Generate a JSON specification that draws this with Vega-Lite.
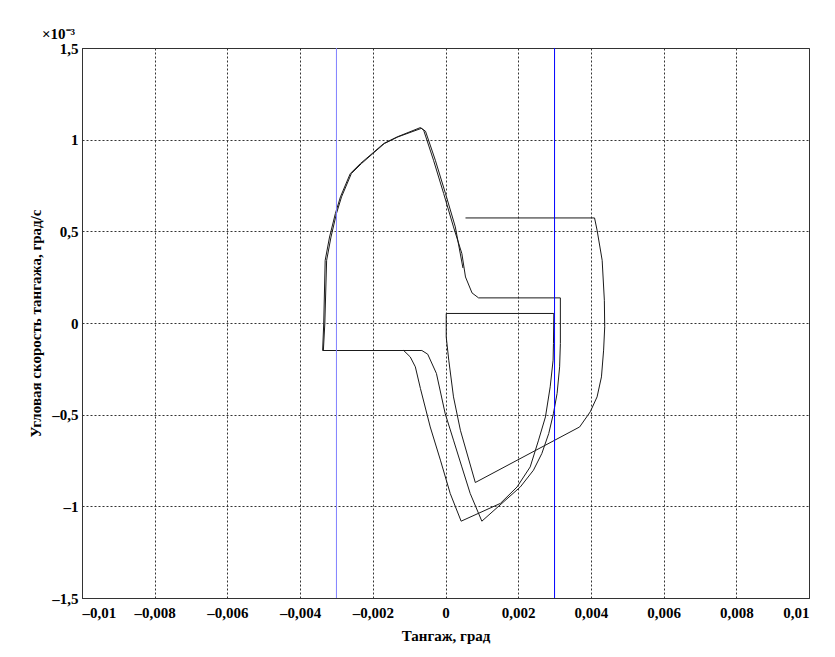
{
  "$schema": "https://vega.github.io/schema/vega-lite/v6.json",
  "width": 727,
  "height": 550,
  "autosize": {"type": "none"},
  "padding": {"left": 82, "top": 48, "right": 26, "bottom": 59},
  "background": "white",
  "title": {"text": "×10⁻³", "anchor": "start", "frame": "group", "dx": -40, "offset": -1, "font": "Liberation Serif", "fontSize": 15, "fontWeight": "bold", "color": "#000"},
  "config": {
    "locale": {"number": {"decimal": ",", "thousands": "\u00a0", "grouping": [3], "currency": ["", ""], "minus": "–"}},
    "view": {"stroke": "#333", "strokeWidth": 1},
    "axis": {
      "labelFont": "Liberation Serif", "labelFontSize": 15, "labelFontWeight": "bold", "labelColor": "#000",
      "titleFont": "Liberation Serif", "titleFontSize": 15, "titleFontWeight": "bold", "titleColor": "#000",
      "domainColor": "#333", "ticks": false,
      "grid": true, "gridColor": "#333", "gridDash": [2, 2], "gridOpacity": 1, "gridWidth": 1
    }
  },
  "datasets": {
    "traj": [
      {"i": 1, "x": 0.00055, "y": 0.573},
      {"i": 2, "x": 0.00410, "y": 0.573},
      {"i": 3, "x": 0.00417, "y": 0.506},
      {"i": 4, "x": 0.00431, "y": 0.342},
      {"i": 5, "x": 0.00437, "y": 0.124},
      {"i": 6, "x": 0.00438, "y": -0.021},
      {"i": 7, "x": 0.00435, "y": -0.148},
      {"i": 8, "x": 0.00429, "y": -0.294},
      {"i": 9, "x": 0.00417, "y": -0.403},
      {"i": 10, "x": 0.00398, "y": -0.485},
      {"i": 11, "x": 0.00369, "y": -0.567},
      {"i": 12, "x": 0.00082, "y": -0.870},
      {"i": 13, "x": 0.00041, "y": -0.585},
      {"i": 14, "x": 0.00022, "y": -0.403},
      {"i": 15, "x": 0.00009, "y": -0.203},
      {"i": 16, "x": 0.00002, "y": -0.076},
      {"i": 17, "x": 0.00002, "y": 0.052},
      {"i": 18, "x": 0.00298, "y": 0.052},
      {"i": 19, "x": 0.00297, "y": -0.112},
      {"i": 20, "x": 0.00296, "y": -0.203},
      {"i": 21, "x": 0.00288, "y": -0.348},
      {"i": 22, "x": 0.00275, "y": -0.512},
      {"i": 23, "x": 0.00256, "y": -0.639},
      {"i": 24, "x": 0.00233, "y": -0.785},
      {"i": 25, "x": 0.00197, "y": -0.894},
      {"i": 26, "x": 0.00151, "y": -0.984},
      {"i": 27, "x": 0.00043, "y": -1.081},
      {"i": 28, "x": 0.00013, "y": -0.930},
      {"i": 29, "x": -0.00014, "y": -0.748},
      {"i": 30, "x": -0.00042, "y": -0.567},
      {"i": 31, "x": -0.00069, "y": -0.357},
      {"i": 32, "x": -0.00083, "y": -0.239},
      {"i": 33, "x": -0.00097, "y": -0.185},
      {"i": 34, "x": -0.00115, "y": -0.150},
      {"i": 35, "x": -0.00338, "y": -0.150},
      {"i": 36, "x": -0.00335, "y": -0.003},
      {"i": 37, "x": -0.00331, "y": 0.342},
      {"i": 38, "x": -0.00319, "y": 0.469},
      {"i": 39, "x": -0.00303, "y": 0.597},
      {"i": 40, "x": -0.00289, "y": 0.688},
      {"i": 41, "x": -0.00262, "y": 0.815},
      {"i": 42, "x": -0.00234, "y": 0.870},
      {"i": 43, "x": -0.00202, "y": 0.924},
      {"i": 44, "x": -0.00170, "y": 0.979},
      {"i": 45, "x": -0.00133, "y": 1.015},
      {"i": 46, "x": -0.00069, "y": 1.066},
      {"i": 47, "x": -0.00060, "y": 1.051},
      {"i": 48, "x": -0.00033, "y": 0.888},
      {"i": 49, "x": -0.00005, "y": 0.706},
      {"i": 50, "x": 0.00022, "y": 0.524},
      {"i": 51, "x": 0.00045, "y": 0.379},
      {"i": 52, "x": 0.00055, "y": 0.251},
      {"i": 53, "x": 0.00073, "y": 0.164},
      {"i": 54, "x": 0.00091, "y": 0.137},
      {"i": 55, "x": 0.00316, "y": 0.137},
      {"i": 56, "x": 0.00316, "y": -0.112},
      {"i": 57, "x": 0.00314, "y": -0.239},
      {"i": 58, "x": 0.00307, "y": -0.384},
      {"i": 59, "x": 0.00297, "y": -0.493},
      {"i": 60, "x": 0.00284, "y": -0.603},
      {"i": 61, "x": 0.00265, "y": -0.712},
      {"i": 62, "x": 0.00242, "y": -0.803},
      {"i": 63, "x": 0.00206, "y": -0.894},
      {"i": 64, "x": 0.00100, "y": -1.081},
      {"i": 65, "x": 0.00068, "y": -0.930},
      {"i": 66, "x": 0.00045, "y": -0.785},
      {"i": 67, "x": 0.00022, "y": -0.639},
      {"i": 68, "x": -0.00001, "y": -0.493},
      {"i": 69, "x": -0.00025, "y": -0.275},
      {"i": 70, "x": -0.00049, "y": -0.170},
      {"i": 71, "x": -0.00065, "y": -0.150},
      {"i": 72, "x": -0.00336, "y": -0.150},
      {"i": 73, "x": -0.00332, "y": -0.003},
      {"i": 74, "x": -0.00327, "y": 0.342},
      {"i": 75, "x": -0.00315, "y": 0.469},
      {"i": 76, "x": -0.00300, "y": 0.597},
      {"i": 77, "x": -0.00286, "y": 0.688},
      {"i": 78, "x": -0.00259, "y": 0.815},
      {"i": 79, "x": -0.00231, "y": 0.870},
      {"i": 80, "x": -0.00200, "y": 0.924},
      {"i": 81, "x": -0.00168, "y": 0.979},
      {"i": 82, "x": -0.00131, "y": 1.015},
      {"i": 83, "x": -0.00066, "y": 1.062},
      {"i": 84, "x": -0.00055, "y": 1.046},
      {"i": 85, "x": -0.00028, "y": 0.888},
      {"i": 86, "x": 0.00000, "y": 0.706},
      {"i": 87, "x": 0.00027, "y": 0.524},
      {"i": 88, "x": 0.00048, "y": 0.300}
    ],
    "bounds": [
      {"xv": -0.003, "c": "#8080ff"},
      {"xv": 0.003, "c": "#0000ff"}
    ]
  },
  "layer": [
    {
      "data": {"name": "traj"},
      "mark": {"type": "line", "color": "#1a1a1a", "strokeWidth": 1, "clip": true},
      "encoding": {
        "x": {"field": "x", "type": "quantitative", "scale": {"domain": [-0.01, 0.01], "nice": false, "zero": false},
              "axis": {"title": "Тангаж, град", "values": [-0.01, -0.008, -0.006, -0.004, -0.002, 0, 0.002, 0.004, 0.006, 0.008, 0.01], "format": "~g", "labelPadding": 7, "titlePadding": 8}},
        "y": {"field": "y", "type": "quantitative", "scale": {"domain": [-1.5, 1.5], "nice": false, "zero": false},
              "axis": {"title": "Угловая скорость тангажа, град/с", "values": [-1.5, -1, -0.5, 0, 0.5, 1, 1.5], "format": "~g", "labelPadding": 4, "titlePadding": 8}},
        "order": {"field": "i", "type": "quantitative"}
      }
    },
    {
      "data": {"name": "bounds"},
      "mark": {"type": "rule", "strokeWidth": 1},
      "encoding": {
        "x": {"field": "xv", "type": "quantitative"},
        "color": {"field": "c", "type": "nominal", "scale": null}
      }
    }
  ]
}
